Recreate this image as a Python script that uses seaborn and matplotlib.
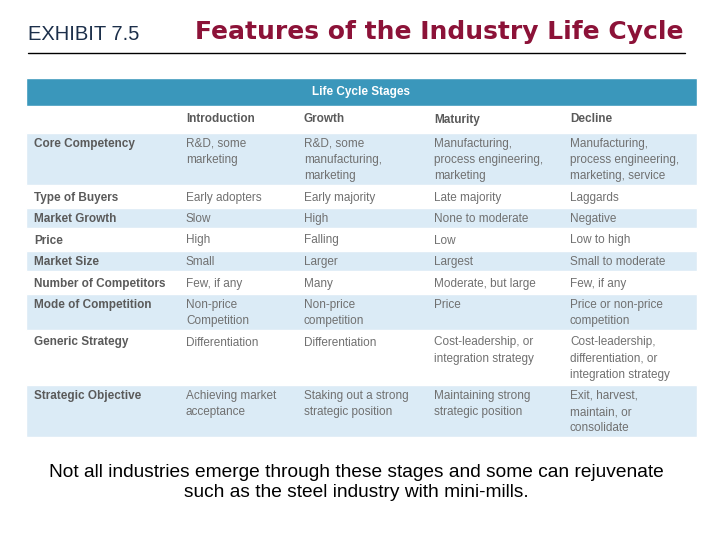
import matplotlib
matplotlib.use("Agg")
import matplotlib.pyplot as plt
import seaborn as sns

# table content
stages = ["Introduction", "Growth", "Maturity", "Decline"]
features = ["Core Competency", "Type of Buyers", "Market Growth", "Price", "Market Size",
            "Number of Competitors", "Mode of Competition", "Generic Strategy", "Strategic Objective"]
introduction = ["R&D, some\nmarketing", "Early adopters", "Slow", "High", "Small", "Few, if any",
                "Non-price\nCompetition", "Differentiation", "Achieving market\nacceptance"]
growth = ["R&D, some\nmanufacturing,\nmarketing", "Early majority", "High", "Falling", "Larger", "Many",
          "Non-price\ncompetition", "Differentiation", "Staking out a strong\nstrategic position"]
maturity = ["Manufacturing,\nprocess engineering,\nmarketing", "Late majority", "None to moderate", "Low",
            "Largest", "Moderate, but large", "Price", "Cost-leadership, or\nintegration strategy",
            "Maintaining strong\nstrategic position"]
decline = ["Manufacturing,\nprocess engineering,\nmarketing, service", "Laggards", "Negative", "Low to high",
           "Small to moderate", "Few, if any", "Price or non-price\ncompetition",
           "Cost-leadership,\ndifferentiation, or\nintegration strategy", "Exit, harvest,\nmaintain, or\nconsolidate"]

title = "Features of the Industry Life Cycle"
exhibit = "EXHIBIT 7.5"
band_label = "Life Cycle Stages"
note = "Not all industries emerge through these stages and some can rejuvenate\nsuch as the steel industry with mini-mills."

sns.set_theme(style="white")
plt.rcParams["font.family"] = ["Liberation Sans", "DejaVu Sans"]

band_col = "#3a97bb"
row_blue = "#dbebf6"
lbl_col = "#5a5a5a"
txt_col = "#707070"

fig = plt.figure(figsize=(7.2, 5.4), dpi=100)
ax = fig.add_axes([0, 0, 1, 1])
ax.set_xlim(0, 720)
ax.set_ylim(540, 0)
ax.axis("off")

# heading
ax.text(28, 35, exhibit, fontsize=14.5, color="#1c2f4a", va="center", ha="left")
ax.text(195, 32, title, fontsize=18, color="#8c1238", fontweight="bold",
        family=["DejaVu Sans"], va="center", ha="left")
ax.plot([28, 685], [53, 53], color="black", lw=1)

left, right = 26, 697
col_x = [34, 186, 304, 434, 570]

# band
ax.barh(92, right - left, height=28, left=left, color=band_col, align="center")
ax.text((left + right) / 2, 92, band_label, fontsize=8.5, color="white", fontweight="bold",
        ha="center", va="center")

# stage header row
for x, s in zip(col_x[1:], stages):
    ax.text(x, 119.5, s, fontsize=8.5, color=lbl_col, fontweight="bold", ha="left", va="center")

# body rows
top = 132
for i, feat in enumerate(features):
    cells = [introduction[i], growth[i], maturity[i], decline[i]]
    n = max(c.count("\n") + 1 for c in cells)
    h = 5.5 + 16 * n
    if i % 2 == 0:
        ax.barh(top + h / 2, right - left, height=h - 1, left=left, color=row_blue, align="center")
    ax.text(col_x[0], top + 6, feat, fontsize=8.5, color=lbl_col, fontweight="bold",
            ha="left", va="top", linespacing=1.45)
    for x, c in zip(col_x[1:], cells):
        ax.text(x, top + 6, c, fontsize=8.5, color=txt_col, ha="left", va="top", linespacing=1.45)
    top += h

ax.text(356, 482.5, note, fontsize=13.8, color="black", ha="center", va="center", linespacing=1.2)

fig.savefig("out.png", dpi=100)
